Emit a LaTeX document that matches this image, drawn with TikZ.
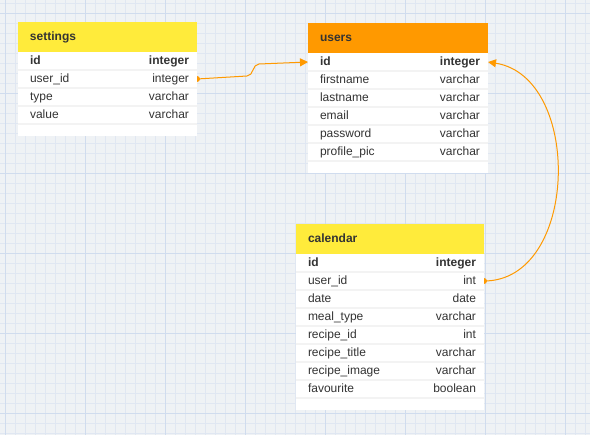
\documentclass[tikz,border=0pt]{standalone}
\usepackage{fontspec}
\setmainfont{Liberation Sans}
\usepackage{xcolor}
\usepackage{tikz}
\usetikzlibrary{arrows.meta,positioning}

\definecolor{ink}{RGB}{51,51,51}
\definecolor{paper}{RGB}{239,242,245}
\definecolor{gridminor}{RGB}{224,231,242}
\definecolor{gridmajor}{RGB}{208,220,238}
\definecolor{headyellow}{RGB}{255,235,59}
\definecolor{headorange}{RGB}{255,153,0}
\definecolor{rowline}{RGB}{243,243,243}
\definecolor{linkorange}{RGB}{255,153,0}

\pgfdeclarelayer{grid}
\pgfdeclarelayer{links}
\pgfsetlayers{grid,links,main}

\newcommand{\fld}[2]{\kern2pt#1\hfill#2\kern-2pt}

\begin{document}
\begin{tikzpicture}[x=1pt, y=-1pt,
                >={Triangle[width=8pt,length=8pt]},
                font=\fontsize{12}{14}\selectfont, text=ink,
                head/.style={minimum height=30pt, inner xsep=12pt, inner ysep=0pt, outer sep=0pt, align=left,
                    font=\fontsize{12}{14}\selectfont\bfseries, text height=9.5pt, text depth=2.9pt},
                row/.style={fill=white, minimum height=18pt, inner xsep=10pt, inner ysep=0pt, outer sep=0pt,
                    text width=#1, align=left, text height=9.6pt, text depth=2.8pt},
                rowend/.style={row=#1, minimum height=12pt, text height=0pt, text depth=0pt},
                rowsep/.style={draw=rowline, line width=2pt},
                link/.style={draw=linkorange, line width=1pt}]
            \useasboundingbox (0,0) rectangle (590,435);

            % Grid
            \begin{pgfonlayer}{grid}
                \fill[paper] (0,0) rectangle (590,435);
                \foreach \x in {5,15,...,585} \draw[gridminor, line width=0.8pt] (\x,0) -- (\x,435);
                \foreach \y in {3,13,...,433} \draw[gridminor, line width=0.8pt] (0,\y) -- (590,\y);
                \foreach \x in {5,85,...,565} \draw[gridmajor, line width=0.8pt] (\x,0) -- (\x,435);
                \foreach \y in {13,93,...,413} \draw[gridmajor, line width=0.8pt] (0,\y) -- (590,\y);
            \end{pgfonlayer}

            % settings
            \node[head, fill=headyellow, text width=155pt, anchor=north west] (settings) at (18,22) {settings};
            \node[row=159pt, below=0pt of settings] (s-id) {\fld{\textbf{id}}{\textbf{integer}}};
            \node[row=159pt, below=0pt of s-id] (s-uid) {\fld{user\_id}{integer}};
            \node[row=159pt, below=0pt of s-uid] (s-type) {\fld{type}{varchar}};
            \node[row=159pt, below=0pt of s-type] (s-value) {\fld{value}{varchar}};
            \node[rowend=159pt, below=0pt of s-value] (s-end) {};

            % users
            \node[head, fill=headorange, text width=156pt, anchor=north west] (users) at (308,23) {users};
            \node[row=160pt, below=0pt of users] (u-id) {\fld{\textbf{id}}{\textbf{integer}}};
            \node[row=160pt, below=0pt of u-id] (u-first) {\fld{firstname}{varchar}};
            \node[row=160pt, below=0pt of u-first] (u-last) {\fld{lastname}{varchar}};
            \node[row=160pt, below=0pt of u-last] (u-email) {\fld{email}{varchar}};
            \node[row=160pt, below=0pt of u-email] (u-pass) {\fld{password}{varchar}};
            \node[row=160pt, below=0pt of u-pass] (u-pic) {\fld{profile\_pic}{varchar}};
            \node[rowend=160pt, below=0pt of u-pic] (u-end) {};

            % calendar
            \node[head, fill=headyellow, text width=164pt, anchor=north west] (calendar) at (296,224) {calendar};
            \node[row=168pt, below=0pt of calendar] (c-id) {\fld{\textbf{id}}{\textbf{integer}}};
            \node[row=168pt, below=0pt of c-id] (c-uid) {\fld{user\_id}{int}};
            \node[row=168pt, below=0pt of c-uid] (c-date) {\fld{date}{date}};
            \node[row=168pt, below=0pt of c-date] (c-meal) {\fld{meal\_type}{varchar}};
            \node[row=168pt, below=0pt of c-meal] (c-rid) {\fld{recipe\_id}{int}};
            \node[row=168pt, below=0pt of c-rid] (c-title) {\fld{recipe\_title}{varchar}};
            \node[row=168pt, below=0pt of c-title] (c-image) {\fld{recipe\_image}{varchar}};
            \node[row=168pt, below=0pt of c-image] (c-fav) {\fld{favourite}{boolean}};
            \node[rowend=168pt, below=0pt of c-fav] (c-end) {};

            % Row lines
            \foreach \r in {s-id,s-uid,s-type,s-value,u-id,u-first,u-last,u-email,u-pass,u-pic,
                            c-id,c-uid,c-date,c-meal,c-rid,c-title,c-image,c-fav}
                \draw[rowsep] (\r.south west) -- (\r.south east);

            % Edges
            \begin{pgfonlayer}{links}
                \fill[linkorange] (s-uid.east) circle (3pt);
                \draw[link,->] (s-uid.east) -- ++(50,-3) to[out=0,in=180] ++(12,-12) -- (u-id.west);
                \fill[linkorange] (c-uid.east) circle (3pt);
                \draw[link,->] (c-uid.east) .. controls +(95,0) and +(95,15) .. (u-id.east);
            \end{pgfonlayer}
        \end{tikzpicture}
\end{document}
